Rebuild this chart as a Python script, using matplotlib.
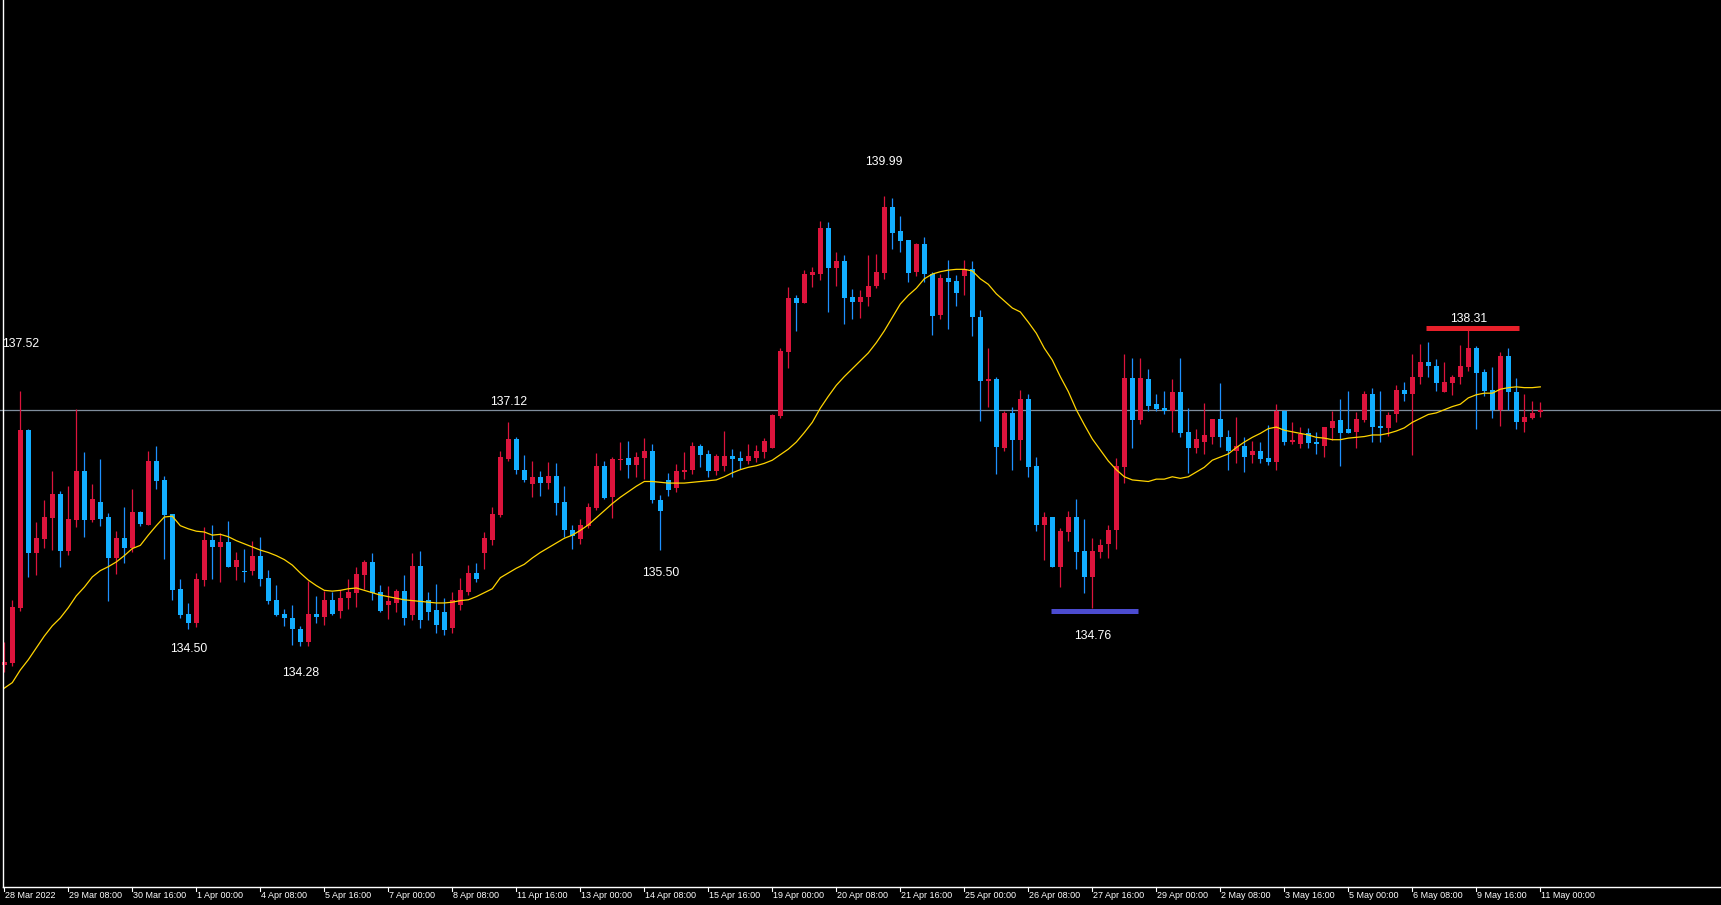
import matplotlib
matplotlib.use("Agg")
import matplotlib.pyplot as plt
from matplotlib.lines import Line2D
import numpy as np

# ---------------- data (EUR/JPY style H4 candles) ----------------
opens = [134.04,134.07,134.77,137.02,135.46,135.64,135.91,136.21,135.49,135.88,
         136.50,135.88,136.11,135.92,135.40,135.65,135.53,135.98,135.82,136.63,
         136.39,135.96,135.01,134.69,134.57,135.12,135.63,135.54,135.60,135.29,
         135.23,135.23,135.43,135.15,134.87,134.69,134.64,134.50,134.34,134.69,
         134.65,134.87,134.73,134.89,134.96,135.19,135.35,134.97,134.80,134.83,
         134.98,134.68,135.30,134.87,134.74,134.72,134.51,134.81,134.97,135.21,
         135.46,135.63,135.95,136.66,136.91,136.52,136.34,136.43,136.35,136.44,
         136.11,135.76,135.64,135.81,136.04,136.57,136.17,136.64,136.67,136.58,
         136.67,136.76,136.14,136.39,136.29,136.49,136.52,136.82,136.72,136.50,
         136.57,136.69,136.67,136.63,136.67,136.74,136.79,137.20,138.01,138.70,
         138.63,138.99,139.00,139.58,139.08,139.17,138.71,138.65,138.71,138.85,
         139.01,139.85,139.55,139.43,139.02,139.38,139.00,138.48,138.95,138.91,
         138.97,139.06,138.46,137.65,137.67,136.80,137.24,136.89,137.42,136.57,
         135.82,135.92,135.29,135.73,135.92,135.49,135.16,135.48,135.58,135.75,
         136.56,137.68,137.15,137.67,137.35,137.30,137.27,137.51,137.00,136.79,
         136.87,136.94,137.16,136.93,136.76,136.82,136.70,136.76,136.67,136.62,
         137.26,136.87,136.84,136.99,136.87,136.82,137.05,137.15,137.03,137.00,
         137.15,137.48,137.08,137.05,137.22,137.53,137.48,137.69,137.89,137.83,
         137.50,137.62,137.69,137.82,138.06,137.76,137.53,137.28,137.96,137.50,
         137.13,137.17,137.25]
highs = [134.34,134.87,137.52,137.03,135.86,136.14,136.50,136.25,136.31,137.29,
         136.74,136.34,136.66,135.97,135.74,136.05,136.27,136.00,136.76,136.82,
         136.44,135.96,135.13,134.83,135.21,135.79,135.82,135.72,135.87,135.48,
         135.51,135.62,135.67,135.25,135.06,134.75,134.80,134.54,135.11,134.92,
         134.98,134.97,134.99,135.13,135.29,135.37,135.46,135.06,135.05,135.01,
         135.19,135.46,135.49,134.97,135.07,134.89,134.97,135.15,135.31,135.34,
         135.73,136.05,136.76,137.12,136.93,136.71,136.63,136.50,136.62,136.60,
         136.31,135.82,135.90,136.10,136.73,136.63,136.68,136.87,136.88,136.74,
         136.92,136.85,136.20,136.48,136.59,136.74,136.87,136.85,136.77,136.72,
         137.01,136.78,136.76,136.85,136.83,136.92,137.23,138.06,138.84,138.73,
         139.05,139.09,139.67,139.66,139.28,139.24,138.81,138.80,139.24,139.26,
         139.99,139.97,139.74,139.43,139.39,139.47,139.02,139.00,139.18,138.99,
         139.18,139.17,138.55,138.06,137.70,137.26,137.32,137.53,137.48,136.68,
         135.98,135.92,135.78,135.99,136.15,135.90,135.65,135.64,135.82,136.67,
         137.99,137.94,137.94,137.80,137.48,137.52,137.67,137.93,137.30,137.04,
         137.37,137.16,137.62,137.02,137.19,136.93,136.88,136.87,137.09,137.35,
         137.28,137.12,137.06,137.05,137.00,137.06,137.26,137.41,137.52,137.25,
         137.52,137.56,137.52,137.25,137.59,137.63,137.99,138.11,138.14,137.92,
         137.88,137.72,138.10,138.31,138.09,137.80,137.82,138.01,138.06,137.68,
         137.48,137.39,137.38]
lows = [133.96,134.03,134.73,135.16,135.19,135.53,135.50,135.29,135.44,135.79,
        135.67,135.86,135.80,134.85,135.20,135.34,135.48,135.81,135.82,136.27,
        135.39,134.87,134.64,134.50,134.52,135.04,135.14,135.10,135.28,135.12,
        135.09,135.19,135.05,134.82,134.67,134.54,134.30,134.28,134.29,134.57,
        134.55,134.68,134.64,134.75,134.78,135.01,134.87,134.72,134.63,134.72,
        134.55,134.61,134.51,134.62,134.45,134.42,134.45,134.74,134.93,135.10,
        135.26,135.57,135.92,136.63,136.46,136.36,136.17,136.19,136.27,135.94,
        135.66,135.52,135.58,135.78,136.01,136.15,135.91,136.52,136.41,136.43,
        136.40,136.10,135.50,136.18,136.24,136.40,136.46,136.55,136.43,136.45,
        136.50,136.43,136.53,136.59,136.62,136.67,136.79,137.18,137.81,138.28,
        138.63,138.84,138.93,138.52,138.85,138.37,138.43,138.44,138.60,138.82,
        138.94,139.32,139.28,138.90,138.97,138.90,138.23,138.43,138.30,138.59,
        138.73,138.21,137.14,137.32,136.46,136.76,136.52,136.64,136.43,135.74,
        135.37,135.28,135.03,135.61,135.26,134.96,134.76,135.40,135.40,135.51,
        136.35,136.80,137.10,137.27,137.27,137.22,137.00,136.93,136.48,136.73,
        136.72,136.85,136.81,136.52,136.60,136.49,136.61,136.60,136.58,136.52,
        136.83,136.85,136.80,136.80,136.72,136.68,136.90,136.57,136.98,136.80,
        137.13,136.87,136.87,136.95,137.13,137.39,136.71,137.60,137.69,137.52,
        137.50,137.47,137.61,137.77,137.04,137.45,137.17,137.08,137.28,137.03,
        137.00,137.16,137.19]
closes = [134.08,134.78,137.02,135.46,135.65,135.92,136.21,135.49,135.90,136.50,
          135.88,136.15,135.90,135.40,135.65,135.53,135.98,135.83,136.63,136.38,
          135.95,135.00,134.68,134.57,135.13,135.63,135.54,135.60,135.29,135.37,
          135.22,135.43,135.14,134.86,134.68,134.64,134.50,134.34,134.69,134.65,
          134.87,134.69,134.89,134.97,135.20,135.35,134.96,134.73,134.86,134.98,
          134.64,135.30,134.61,134.72,134.55,134.49,134.87,134.99,135.21,135.14,
          135.65,135.96,136.68,136.91,136.51,136.39,136.43,136.35,136.44,136.10,
          135.75,135.68,135.82,136.05,136.57,136.16,136.66,136.66,136.58,136.68,
          136.76,136.14,136.00,136.26,136.50,136.52,136.82,136.71,136.50,136.69,
          136.69,136.65,136.63,136.69,136.76,136.88,137.21,138.02,138.70,138.63,
          139.00,139.03,139.58,139.08,139.17,138.70,138.65,138.71,138.85,139.03,
          139.85,139.52,139.42,139.01,139.38,139.00,138.47,138.95,138.90,138.76,
          139.06,138.45,137.65,137.67,136.81,137.24,136.89,137.42,136.56,135.82,
          135.92,135.29,135.74,135.92,135.48,135.16,135.49,135.57,135.76,136.57,
          137.68,137.15,137.68,137.33,137.29,137.27,137.51,136.98,136.79,136.91,
          136.96,137.16,136.93,136.76,136.82,136.68,136.76,136.66,136.62,137.26,
          136.87,136.89,136.97,136.86,136.84,137.06,137.14,136.99,136.99,137.16,
          137.48,137.06,137.05,137.21,137.53,137.48,137.70,137.89,137.83,137.62,
          137.63,137.70,137.83,138.06,137.75,137.52,137.28,137.96,137.50,137.13,
          137.19,137.24,137.28]
ma_values = [133.75,133.82,133.98,134.11,134.26,134.41,134.54,134.64,134.77,134.92,
             135.03,135.16,135.24,135.29,135.35,135.43,135.52,135.56,135.69,135.81,
             135.92,135.93,135.81,135.77,135.74,135.73,135.69,135.70,135.67,135.62,
             135.58,135.54,135.50,135.47,135.43,135.38,135.31,135.21,135.12,135.05,
             134.99,134.98,134.99,135.01,135.02,134.99,134.96,134.93,134.91,134.89,
             134.87,134.86,134.85,134.84,134.83,134.83,134.84,134.86,134.87,134.91,
             134.96,135.01,135.15,135.21,135.27,135.32,135.40,135.47,135.53,135.59,
             135.65,135.69,135.75,135.82,135.91,136.00,136.09,136.17,136.24,136.31,
             136.37,136.37,136.36,136.35,136.35,136.35,136.36,136.37,136.38,136.39,
             136.43,136.48,136.52,136.55,136.57,136.60,136.64,136.71,136.78,136.87,
             136.99,137.12,137.30,137.45,137.59,137.70,137.80,137.90,138.00,138.13,
             138.28,138.45,138.62,138.73,138.82,138.94,139.00,139.03,139.05,139.06,
             139.06,139.04,138.94,138.87,138.75,138.66,138.57,138.52,138.39,138.25,
             138.06,137.91,137.70,137.51,137.28,137.09,136.91,136.77,136.63,136.52,
             136.43,136.39,136.38,136.37,136.40,136.40,136.43,136.41,136.43,136.49,
             136.55,136.64,136.68,136.72,136.80,136.87,136.93,136.98,137.04,137.06,
             137.02,137.00,136.98,136.96,136.93,136.92,136.90,136.90,136.92,136.93,
             136.94,136.96,136.96,136.98,137.01,137.05,137.12,137.17,137.22,137.24,
             137.28,137.32,137.35,137.43,137.47,137.49,137.49,137.54,137.56,137.57,
             137.56,137.56,137.57]
time_labels = ["28 Mar 2022", "29 Mar 08:00", "30 Mar 16:00", "1 Apr 00:00", "4 Apr 08:00",
               "5 Apr 16:00", "7 Apr 00:00", "8 Apr 08:00", "11 Apr 16:00", "13 Apr 00:00",
               "14 Apr 08:00", "15 Apr 16:00", "19 Apr 00:00", "20 Apr 08:00", "21 Apr 16:00",
               "25 Apr 00:00", "26 Apr 08:00", "27 Apr 16:00", "29 Apr 00:00", "2 May 08:00",
               "3 May 16:00", "5 May 00:00", "6 May 08:00", "9 May 16:00", "11 May 00:00"]
label_step = 8
current_price = 137.28
# marked extremes: (bar index, price, label)
marked_idx = [2, 63, 110, 82, 23, 37, 136, 183]
marked_val = [137.52, 137.12, 139.99, 135.50, 134.50, 134.28, 134.76, 138.31]
high_bar_idx, high_bar_val = 183, 138.31
low_bar_idx, low_bar_val = 136, 134.76

# ---------------- styling ----------------
W, H = 1721, 905
DPI = 100
UP_COL = "#DC143C"
DN_BODY = "#12AEFF"
DN_WICK = "#1E90FF"
MA_COL = "#FFD400"
BG = "#000000"
PX = 8.0            # pixels per bar
X0 = 4.3            # pixel of bar 0
PPU = 78.87         # pixels per price unit
TOP_PRICE = 142.475 # price at pixel row 0

fig = plt.figure(figsize=(W / DPI, H / DPI), dpi=DPI, facecolor=BG)
ax = fig.add_axes([0, 0, 1, 1])
ax.set_facecolor(BG)
ax.set_xlim(-X0 / PX, (W - X0) / PX)
ax.set_ylim(TOP_PRICE - H / PPU, TOP_PRICE)
ax.axis("off")

o = np.array(opens); h = np.array(highs); l = np.array(lows); c = np.array(closes)
idx = np.arange(len(o))
up = c >= o

# current price line
ax.axhline(current_price, color="#7F8D9C", lw=0.9, zorder=1)

# wicks
ax.vlines(idx[up], l[up], h[up], color=UP_COL, lw=0.9, zorder=2)
ax.vlines(idx[~up], l[~up], h[~up], color=DN_WICK, lw=0.9, zorder=2)
# bodies
body_w = 0.62
min_h = 1.2 / PPU
bot = np.minimum(o, c)
ht = np.maximum(np.abs(c - o), min_h)
ax.bar(idx[up], ht[up], bottom=bot[up], width=body_w, color=UP_COL, lw=0, zorder=3)
ax.bar(idx[~up], ht[~up], bottom=bot[~up], width=body_w, color=DN_BODY, lw=0, zorder=3)

# moving average
ax.plot(idx, ma_values, color=MA_COL, lw=0.9, zorder=4)

# highlighted high / low levels
ax.plot([high_bar_idx - 5.3, high_bar_idx + 6.3], [high_bar_val + 0.005] * 2,
        color="#E8202A", lw=3.6, solid_capstyle="butt", zorder=5)
ax.plot([low_bar_idx - 5.2, low_bar_idx + 5.7], [low_bar_val - 0.03] * 2,
        color="#4B4BD0", lw=3.6, solid_capstyle="butt", zorder=5)

# price labels
offsets = [47, 20, 34, -23, -20, -27, -28, 9]
for i, v, dy in zip(marked_idx, marked_val, offsets):
    ax.annotate(f"{v:.2f}", xy=(i, v), xytext=(0, dy), textcoords="offset pixels",
                ha="center", va="center", color="white", fontsize=8.8,
                family="Liberation Sans", zorder=6)

# frame lines (left and bottom)
fig.add_artist(Line2D([3.5 / W, 3.5 / W], [18 / H, 1], color="white", lw=1.0))
fig.add_artist(Line2D([3.5 / W, 1], [18 / H, 18 / H], color="white", lw=1.0))

# time axis labels
for k, lab in enumerate(time_labels):
    bar = k * label_step
    xpx = X0 + PX * bar
    fig.text((xpx + 1) / W, 9.5 / H, lab, color="white", fontsize=6.5,
             family="Liberation Sans", ha="left", va="center")
    fig.add_artist(Line2D([xpx / W, xpx / W], [14 / H, 18 / H], color="white", lw=0.8))

fig.savefig("out.png", dpi=DPI, facecolor=BG)
